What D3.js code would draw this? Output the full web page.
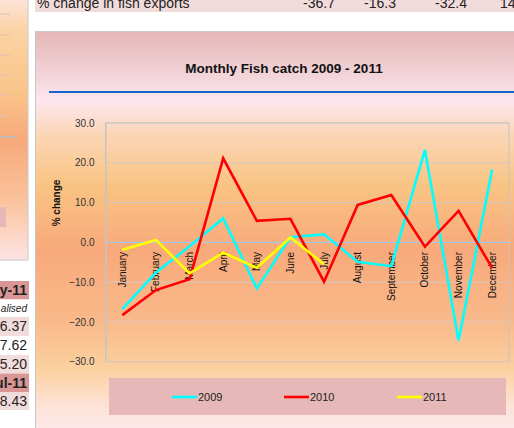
<!DOCTYPE html>
<html><head><meta charset="utf-8">
<script src="https://cdn.jsdelivr.net/npm/d3@7"></script>
<style>
html,body{margin:0;padding:0;background:#fff;overflow:hidden}
svg{display:block;font-family:Arial,"Liberation Sans",sans-serif}
</style></head><body>
<script>
const months = ["January","February","March","April","May","June","July","August","September","October","November","December"];
const series2009 = [-16.8, -7.6, -1.0, 6.0, -11.6, 1.3, 2.0, -4.9, -6.0, 23.2, -24.7, 18.3];
const series2010 = [-18.3, -12.0, -9.3, 21.1, 5.4, 5.9, -9.9, 9.4, 11.9, -1.1, 7.9, -6.5];
const series2011 = [-1.9, 0.6, -7.8, -2.6, -6.4, 1.2, -5.5];
const seriesNames = ["2009","2010","2011"];
const seriesColors = ["#00ffff","#ff0000","#ffff00"];
const yTicks = [-30,-20,-10,0,10,20,30];
const chartTitle = "Monthly Fish catch 2009 - 2011";
const yTitle = "% change";
const topRowLabel = "% change in fish exports";
const topRowValues = ["-36.7","-16.3","-32.4","14"];
const leftCells = ["y-11","alised","6.37","7.62","5.20","ul-11","8.43"];

(function(){
const W = 514, H = 428;
const svg = d3.select("body").append("svg").attr("width", W).attr("height", H);
const defs = svg.append("defs");

const g1 = defs.append("linearGradient").attr("id","bgMain").attr("gradientUnits","userSpaceOnUse")
  .attr("x1",0).attr("y1",31).attr("x2",0).attr("y2",428);
[[31,"#e5b7b6"],[70,"#f0d0d4"],[100,"#fde6ee"],[135,"#fbd6b6"],[185,"#f9c483"],[250,"#f8a97b"],[320,"#f9b98a"],[370,"#fbd1a0"],[405,"#fde2d6"],[428,"#fde8e8"]]
  .forEach(([yy,c]) => g1.append("stop").attr("offset", (yy-31)/397).attr("stop-color", c));
const g2 = defs.append("linearGradient").attr("id","bgLeft").attr("gradientUnits","userSpaceOnUse")
  .attr("x1",0).attr("y1",0).attr("x2",0).attr("y2",260);
[[0,"#fde4d8"],[30,"#fbd3a5"],[90,"#fac58a"],[140,"#f8a97b"],[200,"#fac39c"],[260,"#fde3e3"]]
  .forEach(([yy,c]) => g2.append("stop").attr("offset", yy/260).attr("stop-color", c));

// left strip
svg.append("rect").attr("x",-2).attr("y",-2).attr("width",30).attr("height",262)
  .attr("fill","url(#bgLeft)").attr("stroke","#c8c8c8");
[14,35,55,75,95,116].forEach(yy => svg.append("line").attr("x1",0).attr("x2",10).attr("y1",yy).attr("y2",yy)
  .attr("stroke","#e0c0b0").attr("stroke-width",1));
svg.append("line").attr("x1",0).attr("x2",17).attr("y1",137).attr("y2",137).attr("stroke","#a9c4e0").attr("stroke-width",1.2);
svg.append("rect").attr("x",0).attr("y",207).attr("width",6).attr("height",20).attr("fill","#e6b8b7");

const rowTops = [281, 299.5, 317, 336, 355, 373.5, 392, 410];
const rowFill = ["#da9694","#ffffff","#f2dcdb","#ffffff","#f2dcdb","#da9694","#f2dcdb"];
leftCells.forEach((t,i) => {
  svg.append("rect").attr("x",-1).attr("y",rowTops[i]).attr("width",30).attr("height",rowTops[i+1]-rowTops[i])
    .attr("fill",rowFill[i]);
  const tx = svg.append("text").attr("x",27).attr("y",(rowTops[i]+rowTops[i+1])/2).attr("dy","0.35em")
    .attr("text-anchor","end").attr("fill","#222").text(t);
  if (i===0 || i===5) tx.attr("font-weight","bold").attr("font-size",14);
  else if (i===1) tx.attr("font-style","italic").attr("font-size",10);
  else tx.attr("font-size",14);
});

// top row
svg.append("rect").attr("x",35).attr("y",-1).attr("width",480).attr("height",13).attr("fill","#f2dcdb");
svg.append("text").attr("x",37).attr("y",8).attr("font-size",14).attr("fill","#222").text(topRowLabel);
const valPos = [[335,"end"],[396,"end"],[467,"end"],[500,"start"]];
topRowValues.forEach((v,i) => svg.append("text").attr("x",valPos[i][0]).attr("y",8).attr("font-size",14)
  .attr("text-anchor",valPos[i][1]).attr("fill","#222").text(v));

// main chart panel
svg.append("rect").attr("x",35.5).attr("y",31.5).attr("width",490).attr("height",410)
  .attr("fill","url(#bgMain)").attr("stroke","#c8c8c8");
svg.append("text").attr("x",284).attr("y",73).attr("text-anchor","middle").attr("font-weight","bold")
  .attr("font-size",13.5).attr("fill","#111").text(chartTitle);
svg.append("line").attr("x1",49).attr("x2",514).attr("y1",92).attr("y2",92).attr("stroke","#1266cc").attr("stroke-width",2);

const pl = 105.5, pr = 509, pt = 122.9, pb = 361.7;
const x = d3.scalePoint().domain(months).range([pl, pr]).padding(0.5);
const y = d3.scaleLinear().domain([-30, 30]).range([pb, pt]);

svg.append("g").selectAll("line").data(yTicks.filter(d => d !== 0)).join("line")
  .attr("x1",pl).attr("x2",pr).attr("y1",d=>y(d)).attr("y2",d=>y(d))
  .attr("stroke","#d6c6c0").attr("stroke-width",1);
svg.append("path").attr("d",`M${pl},${pb}V${pt}H${pr}V${pb}`).attr("fill","none").attr("stroke","#c4c4c4");
svg.append("line").attr("x1",pl).attr("x2",pr).attr("y1",y(0)).attr("y2",y(0)).attr("stroke","#a8c8e6").attr("stroke-width",1.2);

const yAxis = svg.append("g").attr("transform",`translate(${pl},0)`)
  .call(d3.axisLeft(y).tickValues(yTicks).tickFormat(d3.format(".1f")).tickSize(0).tickPadding(11));
yAxis.select(".domain").attr("stroke","#c4c4c4");
yAxis.selectAll("text").attr("font-size",10).attr("fill","#333").attr("font-family","Arial,'Liberation Sans',sans-serif");

svg.append("text").attr("transform",`translate(56,203) rotate(-90)`).attr("text-anchor","middle").attr("dy","0.35em")
  .attr("font-size",10).attr("font-weight","bold").attr("fill","#111").text(yTitle);

svg.append("g").selectAll("text").data(months).join("text")
  .attr("transform", d => `translate(${x(d)},252) rotate(-90)`)
  .attr("text-anchor","end").attr("dy","0.35em").attr("font-size",10).attr("fill","#111").text(d => d);

const line = d3.line().x((d,i) => x(months[i])).y(d => y(d));
[series2009, series2010, series2011].forEach((s,k) => {
  svg.append("path").datum(s).attr("d", line).attr("fill","none")
    .attr("stroke", seriesColors[k]).attr("stroke-width",2.6).attr("stroke-linejoin","miter");
});

svg.append("rect").attr("x",109).attr("y",378).attr("width",397).attr("height",37).attr("fill","#e6b8b7");
const legX = [172, 284, 397];
seriesNames.forEach((n,k) => {
  svg.append("line").attr("x1",legX[k]).attr("x2",legX[k]+25).attr("y1",397).attr("y2",397)
    .attr("stroke",seriesColors[k]).attr("stroke-width",2.6);
  svg.append("text").attr("x",legX[k]+26).attr("y",397).attr("dy","0.35em").attr("font-size",11)
    .attr("fill","#222").text(n);
});
})();
</script>
</body></html>
